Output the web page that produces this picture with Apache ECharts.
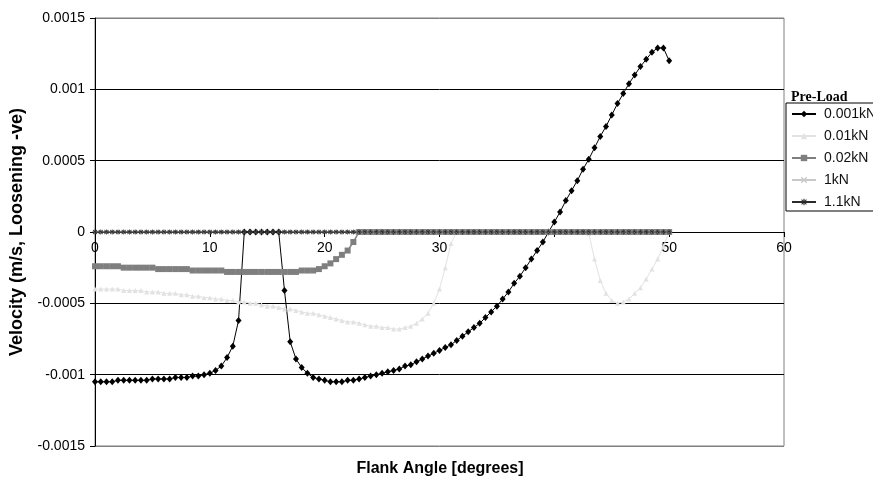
<!DOCTYPE html>
<html>
<head>
<meta charset="utf-8">
<title>Velocity vs Flank Angle</title>
<script src="https://cdn.jsdelivr.net/npm/echarts@6.0.0/dist/echarts.min.js"></script>
<style>
  html, body { margin: 0; padding: 0; background: #ffffff; }
  #chart { width: 873px; height: 482px; }
</style>
</head>
<body>
<div id="chart"></div>
<script>
// Flank angle samples (degrees), shared by every pre-load series
const angles = [
  0, 0.5, 1, 1.5, 2, 2.5, 3, 3.5, 4, 4.5, 5, 5.5, 6, 6.5, 7, 7.5, 8, 8.5, 9, 9.5,
  10, 10.5, 11, 11.5, 12, 12.5, 13, 13.5, 14, 14.5, 15, 15.5, 16, 16.5, 17, 17.5, 18, 18.5, 19, 19.5,
  20, 20.5, 21, 21.5, 22, 22.5, 23, 23.5, 24, 24.5, 25, 25.5, 26, 26.5, 27, 27.5, 28, 28.5, 29, 29.5,
  30, 30.5, 31, 31.5, 32, 32.5, 33, 33.5, 34, 34.5, 35, 35.5, 36, 36.5, 37, 37.5, 38, 38.5, 39, 39.5,
  40, 40.5, 41, 41.5, 42, 42.5, 43, 43.5, 44, 44.5, 45, 45.5, 46, 46.5, 47, 47.5, 48, 48.5, 49, 49.5,
  50
];

const seriesNames = ['0.001kN', '0.01kN', '0.02kN', '1kN', '1.1kN'];

// Velocity (m/s) for each pre-load
const vel_0001kN = [
  -0.00105, -0.00105, -0.00105, -0.00105, -0.00104, -0.00104, -0.00104, -0.00104, -0.00104, -0.00104,
  -0.00103, -0.00103, -0.00103, -0.00103, -0.00102, -0.00102, -0.00102, -0.00101, -0.00101, -0.00100,
  -0.00099, -0.00097, -0.00094, -0.00088, -0.00080, -0.00062, 0, 0, 0, 0,
  0, 0, 0, -0.00041, -0.00077, -0.00089, -0.00095, -0.00099, -0.00102, -0.00103,
  -0.00104, -0.00105, -0.00105, -0.00105, -0.00104, -0.00104, -0.00103, -0.00102, -0.00101, -0.00100,
  -0.00099, -0.00098, -0.00097, -0.00096, -0.00094, -0.00093, -0.00091, -0.00089, -0.00087, -0.00085,
  -0.00083, -0.00081, -0.00079, -0.00076, -0.00073, -0.00070, -0.00067, -0.00064, -0.00060, -0.00056,
  -0.00052, -0.00047, -0.00042, -0.00036, -0.00031, -0.00025, -0.00019, -0.00013, -0.00007, 0.00000,
  0.00007, 0.00014, 0.00022, 0.00029, 0.00036, 0.00044, 0.00051, 0.00059, 0.00067, 0.00074,
  0.00082, 0.00090, 0.00097, 0.00104, 0.00110, 0.00116, 0.00121, 0.00126, 0.00129, 0.00129,
  0.00120
];

const vel_001kN = [
  -0.00040, -0.00040, -0.00040, -0.00040, -0.00040, -0.00041, -0.00041, -0.00041, -0.00041, -0.00042,
  -0.00042, -0.00042, -0.00043, -0.00043, -0.00043, -0.00044, -0.00044, -0.00045, -0.00045, -0.00046,
  -0.00046, -0.00047, -0.00047, -0.00048, -0.00048, -0.00049, -0.00049, -0.00050, -0.00050, -0.00051,
  -0.00052, -0.00052, -0.00053, -0.00054, -0.00054, -0.00055, -0.00056, -0.00057, -0.00057, -0.00058,
  -0.00059, -0.00060, -0.00061, -0.00062, -0.00063, -0.00063, -0.00064, -0.00065, -0.00066, -0.00066,
  -0.00067, -0.00067, -0.00068, -0.00068, -0.00067, -0.00066, -0.00064, -0.00061, -0.00057, -0.00050,
  -0.00040, -0.00025, -0.00008, 0, 0, 0, 0, 0, 0, 0,
  0, 0, 0, 0, 0, 0, 0, 0, 0, 0,
  0, 0, 0, 0, 0, 0, -0.00001, -0.00019, -0.00034, -0.00043,
  -0.00048, -0.00050, -0.00049, -0.00047, -0.00043, -0.00039, -0.00033, -0.00026, -0.00019, -0.00010,
  0
];

const vel_002kN = [
  -0.00024, -0.00024, -0.00024, -0.00024, -0.00024, -0.00025, -0.00025, -0.00025, -0.00025, -0.00025,
  -0.00025, -0.00026, -0.00026, -0.00026, -0.00026, -0.00026, -0.00026, -0.00027, -0.00027, -0.00027,
  -0.00027, -0.00027, -0.00027, -0.00028, -0.00028, -0.00028, -0.00028, -0.00028, -0.00028, -0.00028,
  -0.00028, -0.00028, -0.00028, -0.00028, -0.00028, -0.00028, -0.00027, -0.00027, -0.00027, -0.00026,
  -0.00024, -0.00022, -0.00019, -0.00016, -0.00013, -0.00007, 0, 0, 0, 0,
  0, 0, 0, 0, 0, 0, 0, 0, 0, 0,
  0, 0, 0, 0, 0, 0, 0, 0, 0, 0,
  0, 0, 0, 0, 0, 0, 0, 0, 0, 0,
  0, 0, 0, 0, 0, 0, 0, 0, 0, 0,
  0, 0, 0, 0, 0, 0, 0, 0, 0, 0,
  0
];

const vel_1kN = [
  0, 0, 0, 0, 0, 0, 0, 0, 0, 0, 0, 0, 0, 0, 0, 0, 0, 0, 0, 0,
  0, 0, 0, 0, 0, 0, 0, 0, 0, 0, 0, 0, 0, 0, 0, 0, 0, 0, 0, 0,
  0, 0, 0, 0, 0, 0, 0, 0, 0, 0, 0, 0, 0, 0, 0, 0, 0, 0, 0, 0,
  0, 0, 0, 0, 0, 0, 0, 0, 0, 0, 0, 0, 0, 0, 0, 0, 0, 0, 0, 0,
  0, 0, 0, 0, 0, 0, 0, 0, 0, 0, 0, 0, 0, 0, 0, 0, 0, 0, 0, 0,
  0
];

const vel_11kN = [
  0, 0, 0, 0, 0, 0, 0, 0, 0, 0, 0, 0, 0, 0, 0, 0, 0, 0, 0, 0,
  0, 0, 0, 0, 0, 0, 0, 0, 0, 0, 0, 0, 0, 0, 0, 0, 0, 0, 0, 0,
  0, 0, 0, 0, 0, 0, 0, 0, 0, 0, 0, 0, 0, 0, 0, 0, 0, 0, 0, 0,
  0, 0, 0, 0, 0, 0, 0, 0, 0, 0, 0, 0, 0, 0, 0, 0, 0, 0, 0, 0,
  0, 0, 0, 0, 0, 0, 0, 0, 0, 0, 0, 0, 0, 0, 0, 0, 0, 0, 0, 0,
  0
];

// Axis tick labels
const yTickLabels = ['-0.0015', '-0.001', '-0.0005', '0', '0.0005', '0.001', '0.0015'];
const xTickValues = [0, 10, 20, 30, 40, 50, 60];
const xTickLabels = ['0', '10', '20', '30', '', '50', '60'];

const FONT = '"Liberation Sans", Arial, sans-serif';

// Plot box geometry (pixels)
const GRID = { left: 95, right: 89, top: 18, bottom: 36 };
const CHART_H = 482;
const Y_MIN = -0.0015, Y_MAX = 0.0015;
// The horizontal axis sits on the zero velocity line
const plotH = CHART_H - GRID.top - GRID.bottom;
const zeroOffset = -Math.round(plotH * (0 - Y_MIN) / (Y_MAX - Y_MIN));

// Marker shapes for the heavier pre-loads
const crossPath = 'path://M0,1.5L1.5,0L10,8.5L8.5,10Z M10,1.5L8.5,0L0,8.5L1.5,10Z';
const starPath = 'path://M4.2,0H5.8V10H4.2Z M0,4.2H10V5.8H0Z M0.6,1.7L1.7,0.6L9.4,8.3L8.3,9.4Z M9.4,1.7L8.3,0.6L0.6,8.3L1.7,9.4Z';

function pairs(values) {
  return angles.map((a, i) => [a, values[i]]);
}

function lineSeries(name, values, color, symbol, symbolSize, lineWidth) {
  return {
    name: name,
    type: 'line',
    data: pairs(values),
    symbol: symbol,
    symbolSize: symbolSize,
    showAllSymbol: true,
    smooth: false,
    lineStyle: { color: color, width: lineWidth },
    itemStyle: { color: color, borderWidth: 0 },
    emphasis: { disabled: true },
    animation: false
  };
}

const chart = echarts.init(document.getElementById('chart'), null, { renderer: 'canvas' });

chart.setOption({
  backgroundColor: '#ffffff',
  animation: false,
  grid: {
    left: GRID.left,
    right: GRID.right,
    top: GRID.top,
    bottom: GRID.bottom,
    show: true,
    borderColor: '#808080',
    borderWidth: 1,
    backgroundColor: 'transparent'
  },
  xAxis: {
    type: 'value',
    min: 0,
    max: 60,
    interval: 10,
    position: 'bottom',
    offset: zeroOffset,
    axisLine: { show: true, onZero: false, lineStyle: { color: '#000', width: 1 } },
    axisTick: { show: true, length: 5, lineStyle: { color: '#000' } },
    axisLabel: {
      fontFamily: FONT,
      fontSize: 14,
      color: '#000',
      margin: 9,
      formatter: function (v) {
        const i = xTickValues.indexOf(Math.round(v));
        return i >= 0 ? xTickLabels[i] : '';
      }
    },
    splitLine: { show: false }
  },
  yAxis: {
    type: 'value',
    min: Y_MIN,
    max: Y_MAX,
    interval: 0.0005,
    name: 'Velocity (m/s, Loosening -ve)',
    nameLocation: 'middle',
    nameRotate: 90,
    nameGap: 69,
    nameTextStyle: { fontFamily: FONT, fontWeight: 'bold', fontSize: 18, color: '#000' },
    axisLine: { show: true, onZero: false, lineStyle: { color: '#000', width: 1 } },
    axisTick: { show: true, length: 5, lineStyle: { color: '#000' } },
    axisLabel: {
      fontFamily: FONT,
      fontSize: 14,
      color: '#000',
      margin: 10,
      formatter: function (v) {
        const i = Math.round(v / 0.0005) + 3;
        return yTickLabels[i] !== undefined ? yTickLabels[i] : '';
      }
    },
    splitLine: {
      show: true,
      lineStyle: {
        color: ['#808080', '#000', '#000', '#000', '#000', '#000', '#808080'],
        width: 1
      }
    }
  },
  legend: {
    orient: 'vertical',
    left: 786,
    top: 103,
    padding: [4, 60, 2, 5],
    itemGap: 8,
    itemWidth: 24,
    itemHeight: 8,
    borderColor: '#000',
    borderWidth: 1,
    backgroundColor: '#ffffff',
    selectedMode: false,
    textStyle: { fontFamily: FONT, fontSize: 14, color: '#111', lineHeight: 14, padding: [0, 0, 0, 3] },
    data: seriesNames
  },
  graphic: [
    {
      type: 'text',
      x: 440,
      y: 469,
      style: {
        text: 'Flank Angle [degrees]',
        font: 'bold 16px "Liberation Sans", Arial, sans-serif',
        fill: '#000',
        align: 'center',
        verticalAlign: 'middle'
      }
    },
    {
      type: 'text',
      x: 791,
      y: 97,
      style: {
        text: 'Pre-Load',
        font: 'bold 14px "Liberation Serif", "Times New Roman", serif',
        fill: '#000',
        align: 'left',
        verticalAlign: 'middle'
      }
    }
  ],
  series: [
    lineSeries(seriesNames[0], vel_0001kN, '#000000', 'diamond', [6, 7], 1),
    lineSeries(seriesNames[1], vel_001kN, '#e2e2e2', 'triangle', 5, 1),
    lineSeries(seriesNames[2], vel_002kN, '#7f7f7f', 'rect', [6, 6], 1.5),
    lineSeries(seriesNames[3], vel_1kN, '#c8c8c8', crossPath, 5, 1),
    lineSeries(seriesNames[4], vel_11kN, '#2a2a2a', starPath, 5, 1)
  ]
});
</script>
</body>
</html>
